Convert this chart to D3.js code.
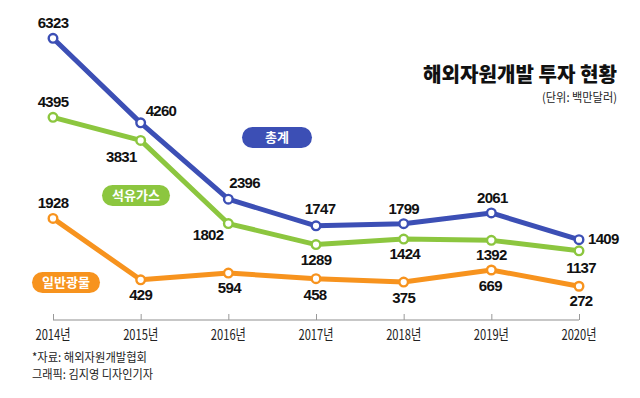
<!DOCTYPE html>
<html><head><meta charset="utf-8">
<script src="https://cdn.jsdelivr.net/npm/d3@7"></script>
<style>body{margin:0;background:#fff}svg{display:block}</style>
</head><body>
<svg id="c" width="640" height="398"></svg>
<script>
const years = ["2014년","2015년","2016년","2017년","2018년","2019년","2020년"];
const seriesNames = ["총계","석유가스","일반광물"];
const totalValues = [6323,4260,2396,1747,1799,2061,1409];
const oilGasValues = [4395,3831,1802,1289,1424,1392,1137];
const mineralValues = [1928,429,594,458,375,669,272];
const title = "해외자원개발 투자 현황";
const unitText = "(단위: 백만달러)";
const sourceText = "*자료: 해외자원개발협회";
const creditText = "그래픽: 김지영 디자인기자";

const colors = ["#3c4fb5","#8cc63f","#f7931e"];
// label placement: [dx, dy, anchor]
const labelPos = [
  [[0,-10,"middle"],[5,-7,"start"],[1,-11,"start"],[4,-12,"middle"],[0,-10,"middle"],[1,-10,"middle"],[9,4,"start"]],
  [[0,-10,"middle"],[-4,22,"end"],[-5,16,"end"],[0,20,"middle"],[1,20,"middle"],[0,20,"middle"],[2,22,"middle"]],
  [[0,-10,"middle"],[0,20,"middle"],[1,20,"middle"],[-1,21,"middle"],[0,21,"middle"],[-1,21,"middle"],[2,20,"middle"]]
];
const pills = [
  {x:242,y:127,w:70,h:21},
  {x:102,y:185,w:68,h:21},
  {x:32,y:272,w:68,h:21}
];
const data = [totalValues, oilGasValues, mineralValues];

const svg = d3.select("#c");
const x = d3.scalePoint().domain(years).range([53,579]);
const y = d3.scaleLinear().domain([0,6323]).range([297.4,38.3]);

// axis
const axisG = svg.append("g").attr("transform","translate(0,320)");
const ax = d3.axisTop(x).tickSize(6).tickFormat("");
axisG.call(ax);
axisG.select(".domain").attr("stroke","#b5b5b5").attr("stroke-width",1.6).attr("d","M53,0H579");
axisG.selectAll(".tick line").attr("stroke","#999").attr("stroke-width",1);
svg.append("g").selectAll("text").data(years).join("text")
  .attr("x",d=>x(d)).attr("y",340).attr("text-anchor","middle")
  .attr("font-family","'Liberation Sans Narrow','Noto Sans CJK KR',sans-serif")
  .attr("font-size",14.5).attr("fill","#222")
  .attr("textLength",35).attr("lengthAdjust","spacingAndGlyphs")
  .text(d=>d);

const line = d3.line().x((d,i)=>x(years[i])).y(d=>y(d));
data.forEach((vals,si)=>{
  svg.append("path").datum(vals).attr("d",line).attr("fill","none")
    .attr("stroke",colors[si]).attr("stroke-width",5).attr("stroke-linejoin","round");
});
data.forEach((vals,si)=>{
  svg.append("g").selectAll("circle").data(vals).join("circle")
    .attr("cx",(d,i)=>x(years[i])).attr("cy",d=>y(d)).attr("r",4.3)
    .attr("fill","#fff").attr("stroke",colors[si]).attr("stroke-width",2.4);
});
data.forEach((vals,si)=>{
  svg.append("g").selectAll("text").data(vals).join("text")
    .attr("x",(d,i)=>x(years[i])+labelPos[si][i][0])
    .attr("y",(d,i)=>y(d)+labelPos[si][i][1])
    .attr("text-anchor",(d,i)=>labelPos[si][i][2])
    .attr("font-family","'Liberation Sans',Arial,sans-serif")
    .attr("font-weight","bold").attr("font-size",15).attr("fill","#111")
    .attr("letter-spacing",-0.7)
    .text(d=>d);
});

// legend pills
seriesNames.forEach((n,si)=>{
  const p = pills[si];
  svg.append("rect").attr("x",p.x).attr("y",p.y).attr("width",p.w).attr("height",p.h)
    .attr("rx",10.5).attr("fill",colors[si]);
  svg.append("text").attr("x",p.x+p.w/2).attr("y",p.y+p.h/2+4.8).attr("text-anchor","middle")
    .attr("font-family","'Noto Sans CJK KR',sans-serif").attr("font-weight","bold")
    .attr("font-size",13).attr("fill","#fff").text(n);
});

// title
svg.append("text").attr("x",617).attr("y",82).attr("text-anchor","end")
  .attr("font-family","'Noto Sans CJK KR',sans-serif").attr("font-weight",900)
  .attr("font-size",20).attr("fill","#111")
  .attr("textLength",194).attr("lengthAdjust","spacingAndGlyphs").text(title);
svg.append("text").attr("x",617).attr("y",102).attr("text-anchor","end")
  .attr("font-family","'Noto Sans CJK KR',sans-serif")
  .attr("font-size",12).attr("fill","#222")
  .attr("textLength",75).attr("lengthAdjust","spacingAndGlyphs").text(unitText);
svg.append("text").attr("x",32).attr("y",362)
  .attr("font-family","'Noto Sans CJK KR',sans-serif")
  .attr("font-size",12).attr("fill","#222").attr("textLength",115).attr("lengthAdjust","spacingAndGlyphs").text(sourceText);
svg.append("text").attr("x",32).attr("y",379)
  .attr("font-family","'Noto Sans CJK KR',sans-serif")
  .attr("font-size",12).attr("fill","#222").attr("textLength",121).attr("lengthAdjust","spacingAndGlyphs").text(creditText);
</script>
</body></html>
